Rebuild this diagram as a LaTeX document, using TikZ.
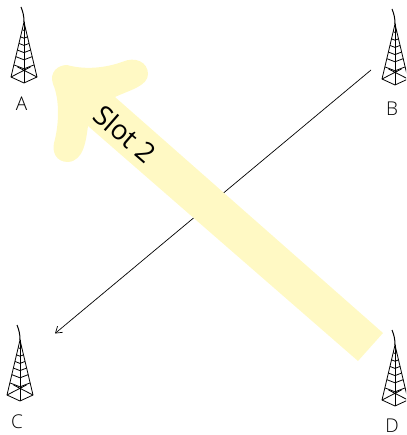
\documentclass[tikz,border=0pt]{standalone}
\usepackage{fontspec}
\setmainfont{Open Sans Light}
\newfontfamily\slotfont{Open Sans}
\usetikzlibrary{arrows.meta}
\definecolor{slotyellow}{HTML}{FFF9C4}
\tikzset{
  lbl/.style={font=\fontsize{19}{19}\selectfont,text=black,inner sep=0pt},
  towerline/.style={line width=0.8pt,black},
  pics/tower/.style={code={
    \draw[line width=1pt] (0,0) .. controls (2,5) and (3,9) .. (3,15);
    \draw[towerline] (3,15) -- (-10,70) -- (3,76) -- (16,70) -- cycle;
    \draw[towerline] (3,15) -- (3,76);
    \foreach \t in {0.14,0.27,0.39,0.51,0.63,0.78}{
      \draw[towerline] ({3-13*\t},{15+55*\t}) -- (3,{15+60*\t}) -- ({3+13*\t},{15+55*\t});
    }
    \draw[towerline] (-10,70) -- (9.5,60) (16,70) -- (-3.5,60);
  }}
}
\begin{document}
\begin{tikzpicture}[x=1pt,y=-1pt]
\useasboundingbox (0,0) rectangle (406,435);
\clip (0,0) rectangle (406,435);
\pic at (21,7) {tower};
\pic at (392,9) {tower};
\pic at (17,325) {tower};
\pic at (392,330) {tower};
\node[lbl] (A) at (21.5,104) {A};
\node[lbl] (B) at (392,109) {B};
\node[lbl] (C) at (17,422) {C};
\node[lbl] (D) at (392,425.5) {D};
\coordinate (bstart) at (371,70);
\coordinate (cend) at (55,333.5);
\draw[line width=0.7pt,-{Straight Barb[length=6pt,width=8pt]}] (bstart) -- (cend);
\fill[slotyellow] (383,333) -- (358,361) -- (88,126)
  .. controls (86,140) and (84,161) .. (68,162)
  .. controls (56,162) and (52,152) .. (54,143)
  .. controls (59,125) and (60,100) .. (53,84)
  .. controls (49,72) and (58,65) .. (67,65)
  .. controls (85,70) and (105,68) .. (122,62)
  .. controls (135,56) and (148,62) .. (148,74)
  .. controls (148,86) and (130,90) .. (115,97) -- cycle;
\node[font=\slotfont\fontsize{27.5}{27.5}\selectfont,inner sep=0pt,rotate=-41] (slot) at (125,134) {Slot 2};
\end{tikzpicture}
\end{document}
